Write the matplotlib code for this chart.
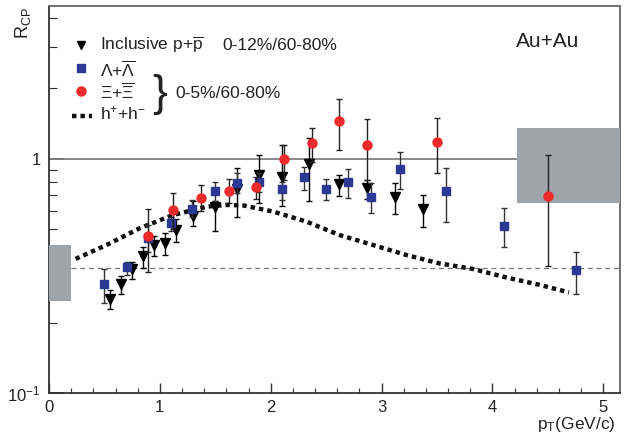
import numpy as np
import matplotlib.pyplot as plt
from matplotlib.ticker import FixedLocator, NullFormatter

plt.rcParams['font.family'] = ['Liberation Sans', 'DejaVu Sans']
plt.rcParams['mathtext.fontset'] = 'custom'
plt.rcParams['mathtext.rm'] = 'Liberation Sans'
plt.rcParams['mathtext.it'] = 'Liberation Sans:italic'

# Lambda + anti-Lambda (0-5%/60-80%)
lam_pt = [0.50, 0.70, 0.895, 1.10, 1.29, 1.50, 1.70, 1.895, 2.10, 2.30, 2.495, 2.70, 2.90, 3.17, 3.58, 4.10, 4.75]
lam_r = [0.292, 0.344, 0.460, 0.531, 0.611, 0.732, 0.787, 0.795, 0.742, 0.835, 0.744, 0.795, 0.688, 0.906, 0.730, 0.519, 0.334]
lam_lo = [0.242, 0.319, 0.40, 0.49, 0.563, 0.662, 0.714, 0.72, 0.67, 0.737, 0.668, 0.683, 0.586, 0.744, 0.536, 0.422, 0.265]
lam_hi = [0.339, 0.364, 0.52, 0.566, 0.668, 0.798, 0.87, 0.87, 0.80, 0.927, 0.821, 0.904, 0.787, 1.068, 0.918, 0.616, 0.401]

# Xi + anti-Xi (0-5%/60-80%)
xi_pt = [0.895, 1.12, 1.375, 1.62, 1.87, 2.12, 2.37, 2.615, 2.87, 3.50, 4.50]
xi_r = [0.468, 0.607, 0.683, 0.732, 0.761, 1.0, 1.167, 1.45, 1.144, 1.18, 0.695]
xi_lo = [0.33, 0.50, 0.598, 0.646, 0.673, 0.813, 0.974, 1.093, 0.813, 0.869, 0.35]
xi_hi = [0.61, 0.718, 0.772, 0.824, 0.84, 1.147, 1.36, 1.805, 1.477, 1.50, 1.04]

# inclusive p + pbar (0-12%/60-80%)
p_pt = [0.55, 0.65, 0.75, 0.85, 0.95, 1.05, 1.15, 1.295, 1.495, 1.70, 1.895, 2.10, 2.345, 2.615, 2.87, 3.12, 3.37]
p_r = [0.252, 0.293, 0.340, 0.386, 0.429, 0.437, 0.498, 0.571, 0.622, 0.742, 0.852, 0.835, 0.952, 0.782, 0.75, 0.69, 0.61]
p_lo = [0.228, 0.265, 0.308, 0.343, 0.386, 0.389, 0.441, 0.517, 0.49, 0.567, 0.647, 0.632, 0.661, 0.697, 0.675, 0.582, 0.514]
p_hi = [0.275, 0.317, 0.364, 0.421, 0.468, 0.482, 0.555, 0.66, 0.664, 0.918, 1.04, 1.147, 1.233, 0.854, 0.813, 0.792, 0.702]

# h+ + h- curve
h_pt = [0.24, 0.52, 0.82, 1.12, 1.42, 1.60, 1.75, 2.02, 2.32, 2.62, 2.92, 3.22, 3.52, 3.82, 4.12, 4.42, 4.69]
h_r = [0.374, 0.429, 0.506, 0.576, 0.625, 0.636, 0.633, 0.596, 0.54, 0.473, 0.429, 0.389, 0.358, 0.339, 0.312, 0.29, 0.269]

# scaling bands
npart_band = [0.248, 0.429]
ncoll_band = [0.65, 1.35]
npart_level = 0.341

xmax = 5.15

fig = plt.figure(figsize=(6.33, 4.37), dpi=100)
ax = fig.add_axes([0.0774, 0.1007, 0.902, 0.8856])
ax.set_yscale('log')
ax.set_xlim(0, xmax)
ax.set_ylim(0.1, 4.5)

gray = '#9ea4a9'
ax.fill_between([0, 0.2], npart_band[0], npart_band[1], color=gray, lw=0, zorder=3)
ax.fill_between([4.225, xmax], ncoll_band[0], ncoll_band[1], color=gray, lw=0, zorder=3)
ax.plot([0, xmax], [1, 1], color='#808080', lw=1.3, zorder=2)
ax.plot([0.2, xmax], [npart_level] * 2, color='#777777', lw=0.9, dashes=(4, 3), zorder=2)

ax.plot(h_pt, h_r, color='#111111', lw=3.2, dashes=(1, 0.9), zorder=4)

def errs(y, lo, hi):
    y = np.array(y)
    return [y - np.array(lo), np.array(hi) - y]

ax.errorbar(p_pt, p_r, yerr=errs(p_r, p_lo, p_hi), fmt='v', color='black', ms=6.5,
            elinewidth=1, capsize=2, capthick=1, zorder=5)
ax.errorbar(lam_pt, lam_r, yerr=errs(lam_r, lam_lo, lam_hi), fmt='s', mfc='#2b3894', mec='#2b3894',
            ecolor='#333333', ms=6, elinewidth=1, capsize=2, capthick=1, zorder=6)
ax.errorbar(xi_pt, xi_r, yerr=errs(xi_r, xi_lo, xi_hi), fmt='o', mfc='#ee2a2a', mec='#ee2a2a',
            ecolor='#222222', ms=6.5, elinewidth=1, capsize=2, capthick=1, zorder=7)

# axes styling
for side in ['left', 'bottom']:
    ax.spines[side].set_color('#333333')
    ax.spines[side].set_linewidth(1.3)
for side in ['top', 'right']:
    ax.spines[side].set_color('#666666')
    ax.spines[side].set_linewidth(1.3)

ax.xaxis.set_major_locator(FixedLocator([0, 1, 2, 3, 4, 5]))
ax.xaxis.set_minor_locator(FixedLocator(np.arange(0, 5.01, 0.2)))
ax.xaxis.set_minor_formatter(NullFormatter())
ax.set_xticklabels(['0', '1', '2', '3', '4', '5'])
ax.yaxis.set_major_locator(FixedLocator([0.1, 1]))
ax.yaxis.set_minor_locator(FixedLocator([0.2, 0.3, 0.4, 0.5, 0.6, 0.7, 0.8, 0.9, 2, 3, 4]))
ax.yaxis.set_minor_formatter(NullFormatter())
ax.set_yticklabels([r'$\mathrm{10^{-1}}$', '1'])
ax.tick_params(axis='x', which='major', direction='in', length=7.5, width=1, color='#333333',
               labelsize=12, pad=5, labelcolor='#222222')
ax.tick_params(axis='x', which='minor', direction='in', length=3.5, width=0.8, color='#333333')
ax.tick_params(axis='y', which='major', direction='in', length=11, width=1.2, color='#333333',
               labelsize=12, pad=6, labelcolor='#222222')
ax.tick_params(axis='y', which='minor', direction='in', length=6, width=0.8, color='#333333')

fig.text(0.037, 0.985, r'$\mathrm{R_{CP}}$', rotation=90, ha='center', va='top', fontsize=13, color='#222222')
fig.text(0.972, 0.008, r'$\mathrm{p_T}$(GeV/c)', ha='right', va='bottom', fontsize=12.5, color='#222222')

# legend drawn by hand
tr = ax.transAxes
ax.plot([0.056], [0.899], 'v', color='black', ms=6, transform=tr)
ax.text(0.089, 0.899, r'Inclusive $\mathrm{p{+}\overline{p}}$', transform=tr, va='center', fontsize=12.5, color='#222222')
ax.text(0.303, 0.899, '0-12%/60-80%', transform=tr, va='center', fontsize=12.5, color='#222222')
ax.plot([0.056], [0.840], 's', color='#2b3894', ms=6, transform=tr)
ax.text(0.089, 0.835, r'$\mathrm{\Lambda{+}\overline{\Lambda}}$', transform=tr, va='center', fontsize=12.5, color='#222222')
ax.plot([0.056], [0.780], 'o', color='#ee2a2a', ms=6.5, transform=tr)
ax.text(0.089, 0.777, r'$\mathrm{\Xi{+}\overline{\Xi}}$', transform=tr, va='center', fontsize=12.5, color='#222222')
ax.plot([0.040, 0.075], [0.716, 0.716], color='#111111', lw=3.2, dashes=(1, 0.9), transform=tr)
ax.text(0.089, 0.722, r'$\mathrm{h^{+}{+}h^{-}}$', transform=tr, va='center', fontsize=12.5, color='#222222')
ax.text(0.194, 0.772, '}', transform=tr, va='center', ha='center', fontsize=32, color='#222222')
ax.text(0.221, 0.775, '0-5%/60-80%', transform=tr, va='center', fontsize=12.5, color='#222222')
ax.text(0.818, 0.907, 'Au+Au', transform=tr, va='center', fontsize=15, color='#222222')

fig.savefig('out.png', dpi=100)
